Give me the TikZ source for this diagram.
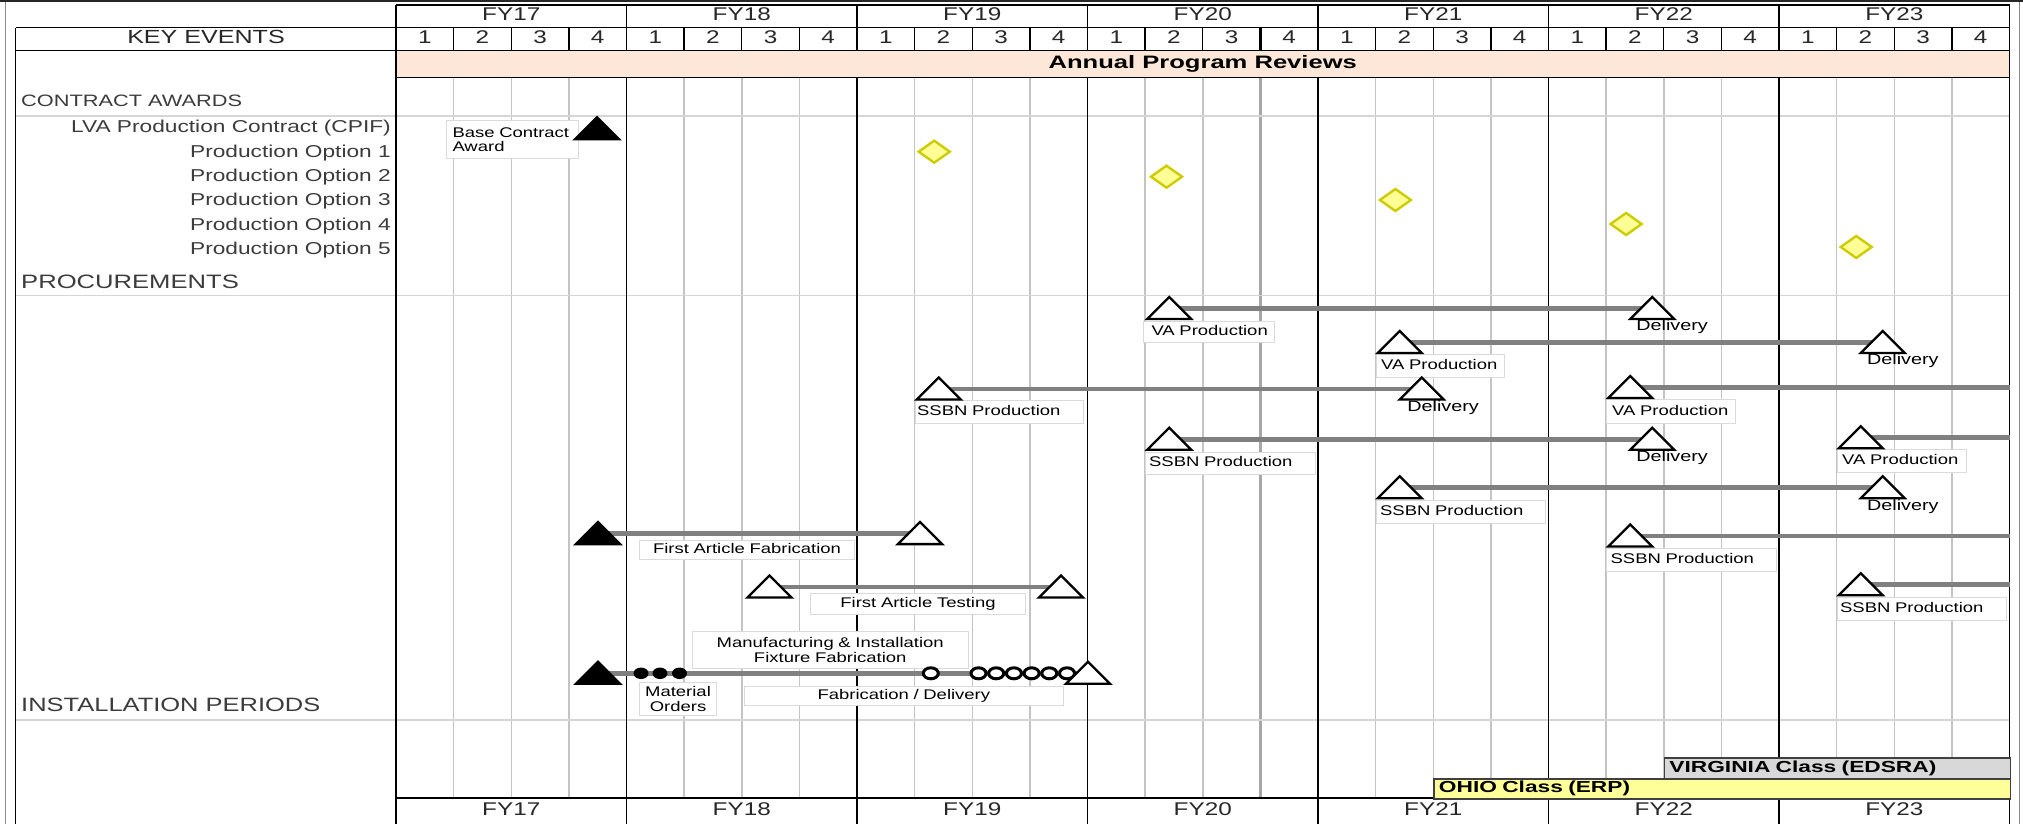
\documentclass[tikz,border=0pt]{standalone}
\usepackage{fontspec}
\setmainfont{Liberation Sans}[FakeStretch=1.32]
\newfontfamily\widebold{Liberation Sans}[FakeStretch=1.42]
\usetikzlibrary{shapes.geometric,calc}
\definecolor{gridgray}{RGB}{196,196,196}
\definecolor{rowgray}{RGB}{214,214,214}
\definecolor{barg}{RGB}{128,128,128}
\definecolor{peach}{RGB}{252,231,216}
\definecolor{dyel}{RGB}{255,255,150}
\definecolor{dedge}{RGB}{204,204,0}
\definecolor{vgray}{RGB}{216,216,216}
\definecolor{oyel}{RGB}{255,255,153}
\definecolor{boxedge}{RGB}{218,218,218}
\definecolor{lbltext}{RGB}{60,60,60}
\definecolor{hdrtext}{RGB}{40,40,40}
\newcommand\fHd{\fontsize{18.4}{20}\selectfont}
\newcommand\fLb{\fontsize{17.2}{20}\selectfont}
\newcommand\fBx{\fontsize{14}{14.4}\selectfont}
\newcommand\fBd{\widebold\bfseries\fontsize{16}{18}\selectfont}
\newcommand\fBand{\widebold\bfseries\fontsize{18}{20}\selectfont}
\tikzset{
  blk/.style={line width=1.4pt, black},
  grd/.style={line width=1.5pt, gridgray},
  rowline/.style={line width=1.3pt, rowgray},
  bar/.style={line width=4.6pt, barg},
  tri/.style={line width=2.3pt, black, line join=miter},
  hdr/.style={font=\fHd, text=hdrtext, inner sep=0pt, text height=0.716em, text depth=0pt},
  lbl/.style={font=\fLb, text=lbltext, inner sep=0pt, text height=0.716em, text depth=0pt},
  bx/.style={draw=boxedge, line width=1pt, fill=white, font=\fBx, anchor=north west, inner sep=0pt, text height=0.716em, text depth=0pt, align=left},
  bxc/.style={draw=boxedge, line width=1pt, fill=white, font=\fBx, anchor=north west, inner sep=0pt, align=center},
  dl/.style={font=\fontsize{15}{16}\selectfont, inner sep=0pt, text height=0.716em, text depth=0pt},
  dia/.style={diamond, draw=dedge, fill=dyel, line width=2.4pt, minimum width=32pt, minimum height=23pt, inner sep=0pt, aspect=1.39},
  dot/.style={ellipse, fill=black, minimum width=15pt, minimum height=11.5pt, inner sep=0pt},
  ring/.style={ellipse, draw=black, fill=white, line width=3pt, minimum width=15pt, minimum height=11pt, inner sep=0pt},
  classbar/.style={draw=black!75, line width=1.3pt, anchor=north west, inner xsep=5pt, inner ysep=0pt, font=\fBd, text height=0.716em, text depth=0pt, align=left},
}
\newcommand\mtri[2]{\draw[tri,fill=#2] ($(#1)+(-22,10.5)$) -- ($(#1)+(0,-11.5)$) -- ($(#1)+(22,10.5)$) -- cycle;}
\begin{document}
\hyphenpenalty=10000 \exhyphenpenalty=10000
\begin{tikzpicture}[x=1pt,y=-1pt]
\useasboundingbox (0,0) rectangle (2023,824);
\fill[white] (0,0) rectangle (2023,824);
% band
\fill[peach] (396,50.7) rectangle (2009.5,77.7);
% quarter lines
\foreach \k in {0,...,6}{\foreach \i in {1,2,3}{
  \draw[grd] ({396+230.5*\k+57.625*\i},77.7) -- ({396+230.5*\k+57.625*\i},798);
  \draw[blk] ({396+230.5*\k+57.625*\i},27.7) -- ({396+230.5*\k+57.625*\i},50.7);}}
\draw[line width=2.4pt, black] (1260.4,27.7) -- (1260.4,50.7);
\draw[line width=2.2pt, gridgray!85!black] (1260.4,77.7) -- (1260.4,798);
% row separators
\foreach \y in {116,295.7,720}{\draw[rowline] (15.6,\y) -- (2009.5,\y);}
% year lines
\foreach \k in {1,...,6}{
  \draw[blk] ({396+230.5*\k},5) -- ({396+230.5*\k},50.7);
  \draw[blk] ({396+230.5*\k},77.7) -- ({396+230.5*\k},824);}
\draw[blk] (396,5) -- (396,824);
\draw[blk] (2009.5,5) -- (2009.5,824);
\draw[blk] (15.6,27.7) -- (15.6,824);
\draw[blk] (396,5) -- (2009.5,5);
\draw[blk] (15.6,27.7) -- (2009.5,27.7);
\draw[blk] (15.6,50.7) -- (2009.5,50.7);
\draw[blk] (396,77.7) -- (2009.5,77.7);
\draw[blk] (396,798) -- (2009.5,798);
% outer frame
\draw[line width=1.4pt, black!45] (5.5,0) -- (5.5,824);
\draw[line width=1.4pt, black!45] (2019.5,0) -- (2019.5,824);
\draw[line width=2.4pt, black!85] (0,1.2) -- (2023,1.2);
% headers
\node[hdr, font=\fontsize{19}{20}\selectfont] (keyev) at (206,39.5) {KEY EVENTS};
\foreach \k/\t in {0/FY17,1/FY18,2/FY19,3/FY20,4/FY21,5/FY22,6/FY23}{
  \node[hdr] (fy\k) at ({396+230.5*(\k+0.5)},16.5) {\t};
  \node[hdr] (fyb\k) at ({396+230.5*(\k+0.5)},811.5) {\t};}
\foreach \q in {0,...,27}{
  \pgfmathtruncatemacro\qn{mod(\q,4)+1}
  \node[hdr] (q\q) at ({396+57.625*(\q+0.5)},39.5) {\qn};}
\node[font=\fBand, inner sep=0pt, text height=0.716em, text depth=0pt] (apr) at (1202.75,65.3) {Annual Program Reviews};
% left labels
\node[lbl, anchor=west, font=\fontsize{16.5}{18}\selectfont] (cawards) at (21,102.7) {CONTRACT AWARDS};
\node[lbl, anchor=east] (lva) at (391,129.3) {LVA Production Contract (CPIF)};
\node[lbl, anchor=east] (po1) at (391,153.6) {Production Option 1};
\node[lbl, anchor=east] (po2) at (391,177.9) {Production Option 2};
\node[lbl, anchor=east] (po3) at (391,202.2) {Production Option 3};
\node[lbl, anchor=east] (po4) at (391,226.5) {Production Option 4};
\node[lbl, anchor=east] (po5) at (391,250.8) {Production Option 5};
\node[lbl, anchor=west, font=\fontsize{19.4}{21}\selectfont] (proc) at (21,285) {PROCUREMENTS};
\node[lbl, anchor=west, font=\fontsize{19.3}{21}\selectfont] (inst) at (21,708) {INSTALLATION PERIODS};
% boxes
\node[draw=boxedge, line width=1pt, fill=white, font=\fBx, anchor=north west, inner sep=0pt, align=left, text width=132.5pt, minimum height=38pt] (bca) at (445.5,120) {\hspace*{6.5pt}Base Contract\\\hspace*{6.5pt}Award};
\node[bx, text width=130.6pt, minimum height=21.3pt] (vaA) at (1143,320.7) {\hspace*{8pt}VA Production};
\node[bx, text width=128.4pt, minimum height=23pt] (vaB) at (1375.6,354) {\hspace*{5pt}VA Production};
\node[bx, text width=168.4pt, minimum height=23.3pt] (ssC) at (914.6,400) {\hspace*{2pt}SSBN Production};
\node[bx, text width=128.5pt, minimum height=23.4pt] (vaC) at (1606.1,399.3) {\hspace*{5.5pt}VA Production};
\node[bx, text width=170pt, minimum height=22.3pt] (ssD) at (1145.1,451.7) {\hspace*{3.5pt}SSBN Production};
\node[bx, text width=129pt, minimum height=22.4pt] (vaD) at (1836.6,449.3) {\hspace*{5pt}VA Production};
\node[bx, text width=169.5pt, minimum height=22.7pt] (ssE) at (1375.6,500) {\hspace*{4pt}SSBN Production};
\node[bx, text width=170pt, minimum height=22.7pt] (ssF) at (1606.1,548) {\hspace*{4pt}SSBN Production};
\node[bx, text width=169.5pt, minimum height=22.7pt] (ssG) at (1836.6,597.3) {\hspace*{3pt}SSBN Production};
\node[bxc, text width=215pt, minimum height=19.3pt, text height=0.716em, text depth=0pt] (faf) at (639,540) {First Article Fabrication};
\node[bxc, text width=215pt, minimum height=20.7pt, text height=0.716em, text depth=0pt] (fat) at (810,593.3) {First Article Testing};
\node[bxc, text width=276.5pt, minimum height=36.7pt] (mif) at (691.5,631) {Manufacturing \& Installation\\Fixture Fabrication};
\node[bxc, text width=77pt, minimum height=33.3pt] (mo) at (639,681.7) {Material\\Orders};
\node[bxc, text width=319.3pt, minimum height=19pt, text height=0.716em, text depth=0pt] (fd) at (743.7,686) {Fabrication / Delivery};
% delivery labels
\node[dl] (dlA) at (1672.1,326.7) {Delivery};
\node[dl] (dlB) at (1902.8,361) {Delivery};
\node[dl] (dlC) at (1443.1,408.3) {Delivery};
\node[dl] (dlD) at (1672.1,458.3) {Delivery};
\node[dl] (dlE) at (1902.8,506.7) {Delivery};
% milestone coordinates
\coordinate (lvaT) at (597,128.8);
\coordinate (aS) at (1169.3,308.5);  \coordinate (aE) at (1652.2,308.5);
\coordinate (bS) at (1399.8,342.5);  \coordinate (bE) at (1882.7,342.5);
\coordinate (cS) at (938.8,389);     \coordinate (cE) at (1421.7,389);
\coordinate (c2S) at (1630.3,387.5); \coordinate (c2E) at (2009.5,387.5);
\coordinate (dS) at (1169.3,439.3);  \coordinate (dE) at (1652.2,439.3);
\coordinate (d2S) at (1860.8,437.7); \coordinate (d2E) at (2009.5,437.7);
\coordinate (eS) at (1399.8,487.7);  \coordinate (eE) at (1882.7,487.7);
\coordinate (fafS) at (598,533.6);   \coordinate (fafE) at (920,533.6);
\coordinate (fS) at (1630.3,536);    \coordinate (fE) at (2009.5,536);
\coordinate (fatS) at (769.6,587);   \coordinate (fatE) at (1061,587);
\coordinate (gS) at (1860.8,584.7);  \coordinate (gE) at (2009.5,584.7);
\coordinate (mifS) at (598,673.3);   \coordinate (mifE) at (1088,673.3);
% bars
\foreach \s/\e in {aS/aE,bS/bE,cS/cE,c2S/c2E,dS/dE,d2S/d2E,eS/eE,fafS/fafE,fS/fE,fatS/fatE,gS/gE,mifS/mifE}{
  \draw[bar] (\s) -- (\e);}
% material orders dots and deliveries
\node[dot] (md1) at (641,673.3) {};
\node[dot] (md2) at (660,673.3) {};
\node[dot] (md3) at (679.5,673.3) {};
\foreach \n/\x in {1/930.8,2/978.5,3/996.2,4/1013.9,5/1031.6,6/1049.3,7/1067}{
  \node[ring] (fc\n) at (\x,673.3) {};}
% triangles
\mtri{lvaT}{black}
\mtri{fafS}{black}
\mtri{mifS}{black}
\foreach \t in {aS,aE,bS,bE,cS,cE,c2S,dS,dE,d2S,eS,eE,fafE,fS,fatS,fatE,gS,mifE}{\mtri{\t}{white}}
% option diamonds
\node[dia] (d1) at (934.2,151.7) {};
\node[dia] (d2) at (1166.5,176.7) {};
\node[dia] (d3) at (1395.4,200) {};
\node[dia] (d4) at (1626.1,224) {};
\node[dia] (d5) at (1856.2,247) {};
% class bars
\node[classbar, fill=vgray, text width=335.75pt, minimum height=21pt] (vir) at (1663.75,757.3) {VIRGINIA Class (EDSRA)};
\node[classbar, fill=oyel, text width=566.25pt, minimum height=20pt] (ohio) at (1433.25,778.3) {OHIO Class (ERP)};
\end{tikzpicture}
\end{document}
